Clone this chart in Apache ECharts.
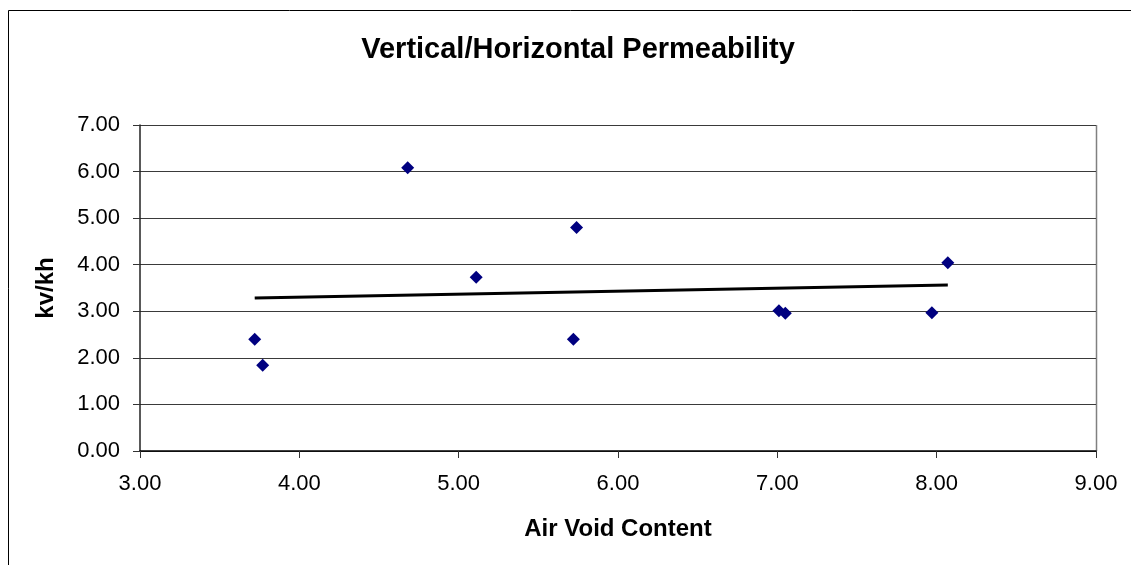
<!DOCTYPE html>
<html>
<head>
<meta charset="utf-8">
<script src="https://cdn.jsdelivr.net/npm/echarts@6/dist/echarts.min.js"></script>
<style>
  html, body { margin: 0; padding: 0; background: #ffffff; }
  #chart { width: 1131px; height: 565px; }
</style>
</head>
<body>
<div id="chart"></div>
<script>
// Air void content (%) and vertical/horizontal permeability ratio per specimen
const airVoids = [3.72, 3.77, 4.68, 5.11, 5.74, 5.72, 7.01, 7.05, 7.97, 8.07];
const kvKh     = [2.40, 1.84, 6.08, 3.73, 4.80, 2.40, 3.01, 2.96, 2.97, 4.04];

const xTicks = [3, 4, 5, 6, 7, 8, 9];
const yTicks = [0, 1, 2, 3, 4, 5, 6, 7];

// Least-squares linear trend through the measured points
function linearFit(xs, ys) {
  const n = xs.length;
  const mx = xs.reduce((a, b) => a + b, 0) / n;
  const my = ys.reduce((a, b) => a + b, 0) / n;
  let sxy = 0, sxx = 0;
  for (let i = 0; i < n; i++) {
    sxy += (xs[i] - mx) * (ys[i] - my);
    sxx += (xs[i] - mx) * (xs[i] - mx);
  }
  const slope = sxy / sxx;
  return x => my + slope * (x - mx);
}
const trend = linearFit(airVoids, kvKh);
const xMin = Math.min(...airVoids), xMax = Math.max(...airVoids);
const trendLine = [[xMin, trend(xMin)], [xMax, trend(xMax)]];

const points = airVoids.map((x, i) => [x, kvKh[i]]);

const FONT = '"Liberation Sans", Arial, sans-serif';

const chart = echarts.init(document.getElementById('chart'), null, { renderer: 'canvas' });
chart.setOption({
  animation: false,
  backgroundColor: '#ffffff',
  title: {
    text: 'Vertical/Horizontal Permeability',
    left: 573, top: 30, textAlign: 'center',
    textStyle: { fontFamily: FONT, fontWeight: 'bold', fontSize: 29, color: '#000' }
  },
  graphic: [{
    type: 'rect',
    shape: { x: 8.5, y: 10.5, width: 1140, height: 570 },
    style: { fill: 'none', stroke: '#000', lineWidth: 1 },
    silent: true, z: -1
  }, {
    type: 'line',
    shape: { x1: 1096.5, y1: 125, x2: 1096.5, y2: 451 },
    style: { stroke: '#808080', lineWidth: 1.5 },
    silent: true
  }],
  grid: { left: 140, top: 125, width: 956, height: 326, containLabel: false },
  xAxis: {
    type: 'value', min: 3, max: 9, interval: 1,
    name: 'Air Void Content', nameLocation: 'middle', nameGap: 66,
    nameTextStyle: { fontFamily: FONT, fontWeight: 'bold', fontSize: 24, color: '#000' },
    axisLine: { show: true, onZero: false, lineStyle: { color: '#000', width: 1.5 } },
    axisTick: { show: true, length: 7, inside: false, lineStyle: { color: '#333' } },
    axisLabel: { fontFamily: FONT, fontSize: 22, color: '#000', margin: 22,
      formatter: v => xTicks.includes(v) ? v.toFixed(2) : '' },
    splitLine: { show: false }
  },
  yAxis: {
    type: 'value', min: 0, max: 7, interval: 1,
    name: 'kv/kh', nameLocation: 'middle', nameGap: 82, nameRotate: 90,
    nameTextStyle: { fontFamily: FONT, fontWeight: 'bold', fontSize: 24, color: '#000' },
    axisLine: { show: true, onZero: false, lineStyle: { color: '#222', width: 1.5 } },
    axisTick: { show: true, length: 7, inside: false, lineStyle: { color: '#333' } },
    axisLabel: { fontFamily: FONT, fontSize: 22, color: '#000', margin: 20,
      formatter: v => yTicks.includes(v) ? v.toFixed(2) : '' },
    splitLine: { show: true, lineStyle: { color: '#3a3a3a', width: 1 } }
  },
  series: [{
    name: 'kv/kh',
    type: 'scatter',
    data: points,
    symbol: 'diamond',
    symbolSize: 13,
    itemStyle: { color: '#000080', opacity: 1 },
    z: 3
  }, {
    name: 'Linear trend',
    type: 'line',
    data: trendLine,
    symbol: 'none',
    lineStyle: { color: '#000', width: 3 },
    z: 2
  }]
});
</script>
</body>
</html>
